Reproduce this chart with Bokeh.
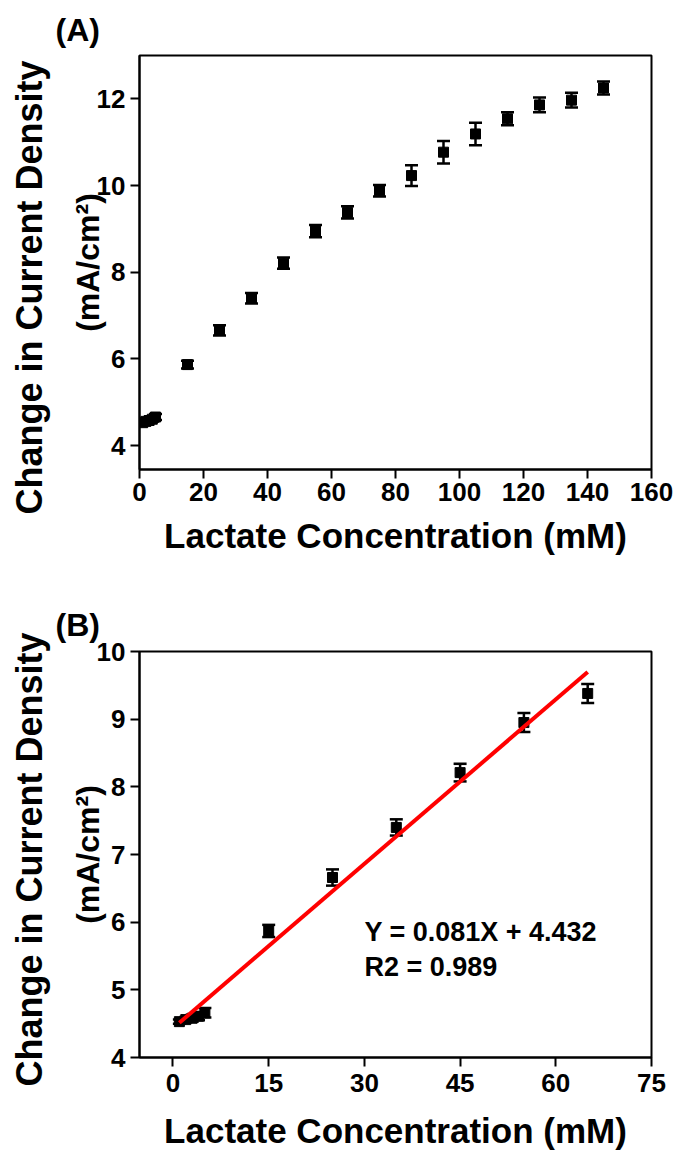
from bokeh.plotting import figure
from bokeh.models import (ColumnDataSource, Whisker, TeeHead, Label, Range1d,
                          FixedTicker, LinearAxis)
from bokeh.layouts import column
from bokeh.embed import file_html
from bokeh.resources import INLINE

# ---- data ----
conc = [1, 2, 3, 4, 5, 15, 25, 35, 45, 55, 65, 75, 85, 95, 105, 115, 125, 135, 145]
density = [4.53, 4.56, 4.58, 4.61, 4.66, 5.87, 6.66, 7.40, 8.21, 8.95, 9.38,
           9.88, 10.23, 10.77, 11.19, 11.54, 11.86, 11.97, 12.25]
density_err = [0.03, 0.04, 0.05, 0.06, 0.07, 0.09, 0.12, 0.12, 0.13, 0.14, 0.14,
               0.135, 0.24, 0.26, 0.26, 0.15, 0.17, 0.17, 0.15]
linear_n = 11  # points used in panel B (x <= 65 mM)
fit_slope = 0.081
fit_intercept = 4.432
fit_r2 = 0.989
fit_x = [1, 65]

xticks_A = [0, 20, 40, 60, 80, 100, 120, 140, 160]
yticks_A = [4, 6, 8, 10, 12]
xticks_B = [0, 15, 30, 45, 60, 75]
yticks_B = [4, 5, 6, 7, 8, 9, 10]

ylabel_1 = "Change in Current Density"
ylabel_2 = "(mA/cm²)"
xlabel = "Lactate Concentration (mM)"

FONT = "Liberation Sans"
W = 673
BL = 139
FW = 512
BR = W - BL - FW
NBSP = "\u00a0"


def make_fig(tag, height, top, frame_h, xr, yr, xt, yt, tick_std, xlab_std, pad):
    p = figure(width=W, height=height, output_backend="svg", toolbar_location=None,
               x_range=Range1d(*xr), y_range=Range1d(*yr),
               min_border_left=BL, min_border_right=BR,
               min_border_top=top, min_border_bottom=height - top - frame_h)
    p.grid.visible = False
    p.outline_line_color = "black"
    p.outline_line_width = 2
    p.background_fill_color = "white"
    p.border_fill_color = "white"
    for ax in (p.xaxis[0], p.yaxis[0]):
        ax.axis_line_width = 2
        ax.major_tick_line_width = 2
        ax.major_tick_out = 9
        ax.major_tick_in = 0
        ax.minor_tick_line_color = None
        ax.major_label_text_font = FONT
        ax.major_label_text_font_style = "bold"
        ax.major_label_text_font_size = "26px"
        ax.major_label_text_color = "black"
    p.yaxis.major_label_standoff = 5
    p.xaxis.major_label_standoff = tick_std
    p.xaxis.ticker = FixedTicker(ticks=xt)
    p.yaxis.ticker = FixedTicker(ticks=yt)
    p.xaxis.axis_label = xlabel
    p.xaxis.axis_label_text_font = FONT
    p.xaxis.axis_label_text_font_style = "bold"
    p.xaxis.axis_label_text_font_size = "35px"
    p.xaxis.axis_label_text_color = "black"
    p.xaxis.axis_label_standoff = xlab_std

    # y label, line 2 on the main axis
    p.yaxis.axis_label = ylabel_2
    p.yaxis.axis_label_text_font = FONT
    p.yaxis.axis_label_text_font_style = "bold"
    p.yaxis.axis_label_text_font_size = "32px"
    p.yaxis.axis_label_text_color = "black"
    p.yaxis.axis_label_standoff = -12

    # y label, line 1 on an outer (empty) axis; non-breaking spaces shift it down
    ax2 = LinearAxis(ticker=FixedTicker(ticks=[]), axis_line_color=None,
                     major_tick_line_color=None, minor_tick_line_color=None,
                     major_tick_out=0, major_tick_in=0, major_label_standoff=0,
                     major_label_text_font_size="0px",
                     axis_label=ylabel_1 + NBSP * pad,
                     axis_label_text_font=FONT, axis_label_text_font_style="bold",
                     axis_label_text_font_size="36px", axis_label_text_color="black",
                     axis_label_standoff=17)
    p.add_layout(ax2, "left")

    p.title.text = tag
    p.title.text_font = FONT
    p.title.text_font_style = "bold"
    p.title.text_font_size = "32px"
    p.title.text_color = "black"
    p.title.align = "left"
    p.title.offset = -84
    p.title.standoff = 15
    return p


def add_points(p, xs, ys, es):
    src = ColumnDataSource(dict(x=xs, y=ys,
                                lo=[a - b for a, b in zip(ys, es)],
                                hi=[a + b for a, b in zip(ys, es)]))
    w = Whisker(source=src, base="x", upper="hi", lower="lo", dimension="height",
                line_color="black", line_width=2.5,
                upper_head=TeeHead(size=13, line_width=2.5, line_color="black"),
                lower_head=TeeHead(size=13, line_width=2.5, line_color="black"))
    p.add_layout(w)
    p.scatter("x", "y", source=src, marker="square", size=10,
              fill_color="black", line_color="black")


# ---- Panel A ----
hA = 575
pA = make_fig("(A)", hA, 55, 414, (0, 160), (3.45, 13.0), xticks_A, yticks_A, 4, 12, 5)
add_points(pA, conc, density, density_err)

# ---- Panel B ----
hB = 577
pB = make_fig("(B)", hB, 76, 410, (-5.25, 75), (4, 10), xticks_B, yticks_B, 7, 16, 1)
pB.title.standoff = 18
add_points(pB, conc[:linear_n], density[:linear_n], density_err[:linear_n])
fit_y = [fit_slope * v + fit_intercept for v in fit_x]
pB.line(fit_x, fit_y, line_color="#ff0000", line_width=4)
for txt, yy in ((f"Y = {fit_slope}X + {fit_intercept}", 5.85), (f"R2 = {fit_r2}", 5.34)):
    pB.add_layout(Label(x=30, y=yy, text=txt, text_font=FONT, text_font_style="bold",
                        text_font_size="27px", text_color="black",
                        text_baseline="middle", text_align="left"))

layout = column(pA, pB, spacing=0)
open("out.html", "w").write(file_html(layout, INLINE))
